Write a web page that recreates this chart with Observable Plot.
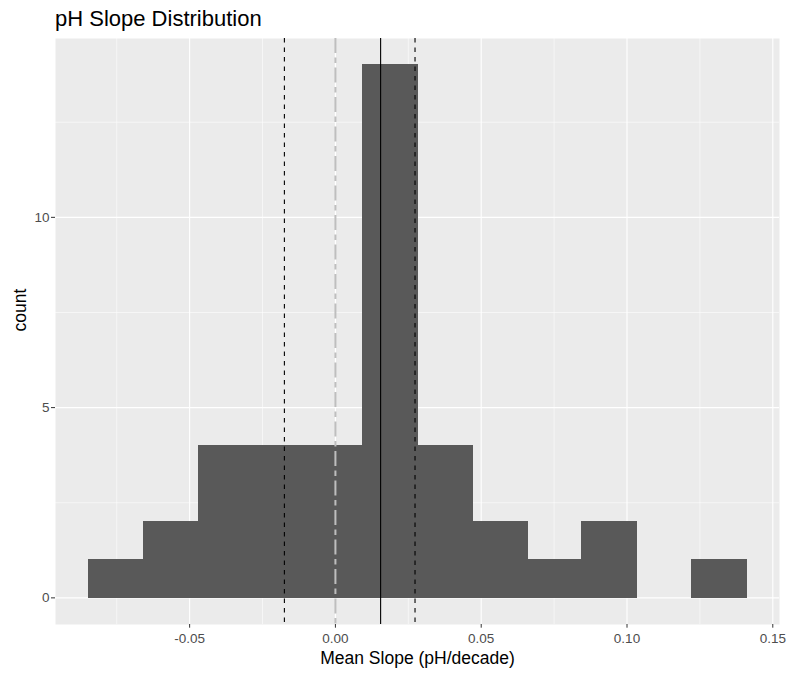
<!DOCTYPE html>
<html>
<head>
<meta charset="utf-8">
<script src="https://cdn.jsdelivr.net/npm/d3@7"></script>
<script src="https://cdn.jsdelivr.net/npm/@observablehq/plot@0.6"></script>
<style>
  html, body { margin: 0; padding: 0; background: white; }
  #title { font-family: "Liberation Sans", Arial, sans-serif; font-size: 22px; line-height: 22px;
           color: black; padding: 8px 0 0 55px; height: 30px; box-sizing: border-box; white-space: nowrap; }
  #title { height: 38px; }
</style>
</head>
<body>
<div id="title">pH Slope Distribution</div>
<div id="chart"></div>
<script>
// Histogram bin edges (13) and counts (12)
const binEdges = [-0.0845, -0.0657, -0.0469, -0.0281, -0.0093, 0.0095, 0.0283, 0.0471, 0.0659, 0.0847, 0.1035, 0.1223, 0.1411];
const counts   = [1, 2, 4, 4, 4, 14, 4, 2, 1, 2, 0, 1];

// Reference lines
const meanSlope = [0.0155];
const ciBounds = [-0.0175, 0.0273];
const zeroLine = [0];

// Axis ticks
const xTicks = [-0.05, 0, 0.05, 0.10, 0.15];
const xMinor = [-0.075, -0.025, 0.025, 0.075, 0.125];
const yTicks = [0, 5, 10];
const yMinor = [2.5, 7.5, 12.5];

const rows = counts.map((c, i) => ({x1: binEdges[i], x2: binEdges[i + 1], count: c}));

const chart = Plot.plot({
  width: 788,
  height: 639,
  marginLeft: 55,
  marginRight: 9,
  marginTop: 0,
  marginBottom: 53,
  style: {fontFamily: "'Liberation Sans', Arial, sans-serif", fontSize: "13.5px", background: "white", overflow: "visible"},
  x: {domain: [-0.0960, 0.1523]},
  y: {domain: [-0.7, 14.7]},
  marks: [
    Plot.frame({fill: "#EBEBEB", stroke: null}),
    Plot.ruleX(xMinor, {stroke: "white", strokeWidth: 0.55}),
    Plot.ruleY(yMinor, {stroke: "white", strokeWidth: 0.55}),
    Plot.ruleX(xTicks, {stroke: "white", strokeWidth: 1.1}),
    Plot.ruleY(yTicks, {stroke: "white", strokeWidth: 1.1}),
    Plot.rectY(rows.filter(d => d.count > 0), {x1: "x1", x2: "x2", y1: 0, y2: "count", fill: "#595959", stroke: "#595959", strokeWidth: 1, shapeRendering: "crispEdges"}),
    Plot.ruleX(ciBounds, {stroke: "black", strokeWidth: 1.1, strokeDasharray: "4.5,5"}),
    Plot.ruleX(zeroLine, {stroke: "#BEBEBE", strokeWidth: 2, strokeDasharray: "15,4.5,5.5,4.5"}),
    Plot.ruleX(meanSlope, {stroke: "black", strokeWidth: 1.1}),
    Plot.axisX({ticks: xTicks, tickFormat: d => d.toFixed(2), tickSize: 3.7, tickPadding: 5,
                stroke: "#333333", fill: "#4D4D4D", fontSize: 13.5, label: null}),
    Plot.axisY({ticks: yTicks, tickFormat: d => String(d), tickSize: 4, tickPadding: 2,
                stroke: "#333333", fill: "#4D4D4D", fontSize: 13.5, label: null}),
    Plot.text(["Mean Slope (pH/decade)"], {frameAnchor: "bottom", dy: 39, fontSize: 17.5, fill: "black"}),
    Plot.text(["count"], {frameAnchor: "left", dx: -35, rotate: -90, fontSize: 17.5, fill: "black"})
  ]
});
document.getElementById("chart").appendChild(chart);
</script>
</body>
</html>
